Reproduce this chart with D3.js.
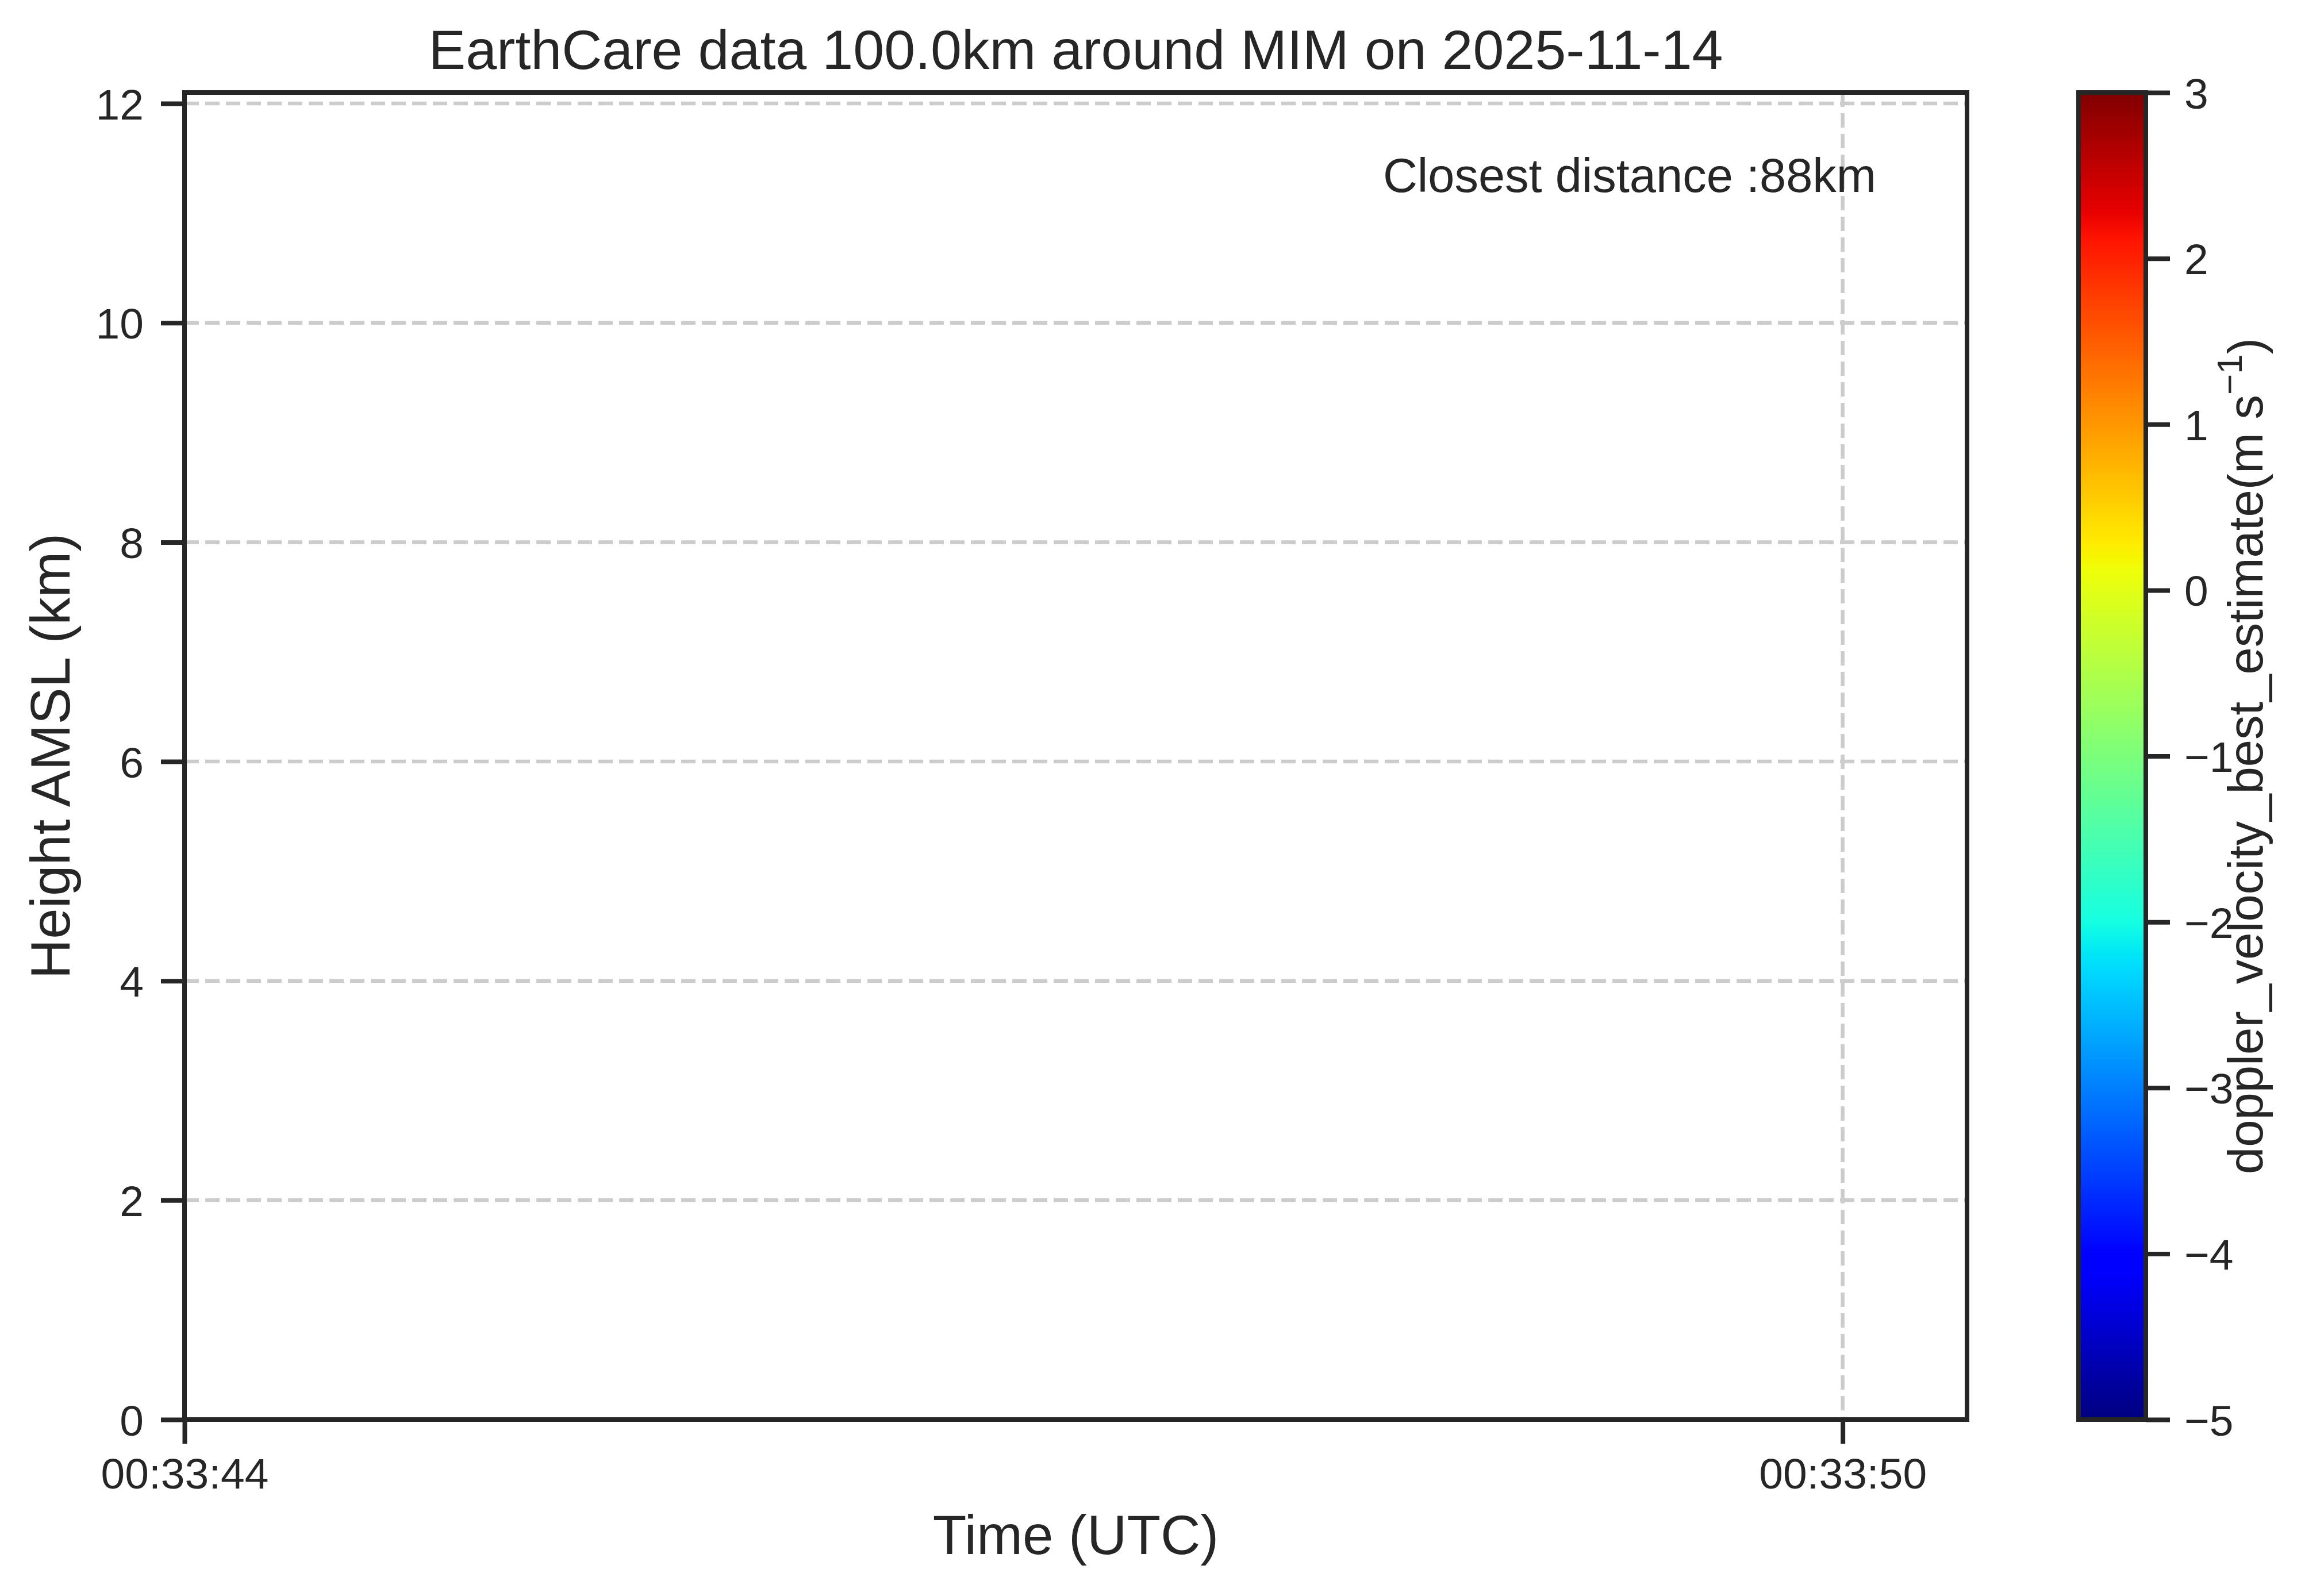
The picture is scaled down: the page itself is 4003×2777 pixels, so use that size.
<!DOCTYPE html>
<html>
<head>
<meta charset="utf-8">
<script src="https://cdn.jsdelivr.net/npm/d3@7"></script>
<style>
  body { margin: 0; background: #fff; }
  text { font-family: "Liberation Sans", Arial, sans-serif; fill: #262626; }
</style>
</head>
<body>
<svg id="chart"></svg>
<script>
// chart data
const titleText = "EarthCare data 100.0km around MIM on 2025-11-14";
const timeStart = new Date(Date.UTC(2025, 10, 14, 0, 33, 44, 0));
const timeEnd = new Date(Date.UTC(2025, 10, 14, 0, 33, 50, 450));
const timeTicks = [new Date(Date.UTC(2025, 10, 14, 0, 33, 44)), new Date(Date.UTC(2025, 10, 14, 0, 33, 50))];
const heightDomain = [0, 12.1];
const heightTicks = [0, 2, 4, 6, 8, 10, 12];
const velocityDomain = [-5, 3];
const velocityTicks = [-5, -4, -3, -2, -1, 0, 1, 2, 3];
const closestDistance = "Closest distance :88km";

// Dimensions
const width = 4003;
const height = 2777;
const plot = { left: 321, right: 3422, top: 161, bottom: 2470 };
const cbar = { left: 3616, right: 3733 };
const ink = "#262626";

const svg = d3.select('#chart')
  .attr('width', width)
  .attr('height', height);

svg.append('rect').attr('width', width).attr('height', height).attr('fill', '#fff');

// scales
const x = d3.scaleUtc()
  .domain([timeStart, timeEnd])
  .range([plot.left, plot.right]);

const y = d3.scaleLinear()
  .domain(heightDomain)
  .range([plot.bottom, plot.top]);

const c = d3.scaleLinear()
  .domain(velocityDomain)
  .range([plot.bottom, plot.top]);

// jet colormap (matplotlib segment data)
const jetR = d3.scaleLinear().domain([0, 0.35, 0.66, 0.89, 1]).range([0, 0, 1, 1, 0.5]).clamp(true);
const jetG = d3.scaleLinear().domain([0, 0.125, 0.375, 0.64, 0.91, 1]).range([0, 0, 1, 1, 0, 0]).clamp(true);
const jetB = d3.scaleLinear().domain([0, 0.11, 0.34, 0.65, 1]).range([0.5, 1, 1, 0, 0]).clamp(true);
function jet(t) {
  return d3.rgb(jetR(t) * 255, jetG(t) * 255, jetB(t) * 255).formatHex();
}

// grid
const grid = svg.append('g')
  .attr('stroke', '#cccccc')
  .attr('stroke-width', 6.5)
  .attr('stroke-dasharray', '25,11');

grid.selectAll('.hgrid')
  .data(heightTicks)
  .enter().append('line')
  .attr('x1', plot.left).attr('x2', plot.right)
  .attr('y1', d => y(d)).attr('y2', d => y(d));

grid.selectAll('.vgrid')
  .data(timeTicks)
  .enter().append('line')
  .attr('x1', d => x(d)).attr('x2', d => x(d))
  .attr('y1', plot.top).attr('y2', plot.bottom);

// X axis
const xAxis = svg.append('g')
  .attr('transform', `translate(0,${plot.bottom})`)
  .call(d3.axisBottom(x).tickValues(timeTicks).tickFormat(d3.utcFormat('%H:%M:%S')).tickSize(42).tickPadding(28));

// Y axis
const yAxis = svg.append('g')
  .attr('transform', `translate(${plot.left},0)`)
  .call(d3.axisLeft(y).tickValues(heightTicks).tickFormat(d3.format('d')).tickSize(41).tickPadding(30));

[xAxis, yAxis].forEach(a => {
  a.select('.domain').remove();
  a.selectAll('.tick line').attr('stroke', ink).attr('stroke-width', 8);
  a.selectAll('.tick text')
    .style('font-family', '"Liberation Sans", Arial, sans-serif')
    .attr('font-size', 75)
    .attr('fill', ink);
});
xAxis.selectAll('.tick text').attr('dy', null).attr('y', 120);
yAxis.selectAll('.tick text').attr('dy', '0.36em');

// spines
svg.append('rect')
  .attr('x', plot.left).attr('y', plot.top)
  .attr('width', plot.right - plot.left).attr('height', plot.bottom - plot.top)
  .attr('fill', 'none').attr('stroke', ink).attr('stroke-width', 8);

// colorbar
const defs = svg.append('defs');
const grad = defs.append('linearGradient')
  .attr('id', 'jet-grad')
  .attr('x1', 0).attr('y1', 1).attr('x2', 0).attr('y2', 0);
grad.selectAll('stop')
  .data(d3.range(0, 257).map(i => i / 256))
  .enter().append('stop')
  .attr('offset', d => d)
  .attr('stop-color', d => jet(d));

svg.append('rect')
  .attr('x', cbar.left).attr('y', c(velocityDomain[1]))
  .attr('width', cbar.right - cbar.left)
  .attr('height', c(velocityDomain[0]) - c(velocityDomain[1]))
  .attr('fill', 'url(#jet-grad)')
  .attr('stroke', ink).attr('stroke-width', 8);

const cAxis = svg.append('g')
  .attr('transform', `translate(${cbar.right},0)`)
  .call(d3.axisRight(c).tickValues(velocityTicks).tickFormat(d => d < 0 ? '\u2212' + Math.abs(d) : d).tickSize(42).tickPadding(25));
cAxis.select('.domain').remove();
cAxis.selectAll('.tick line').attr('stroke', ink).attr('stroke-width', 8);
cAxis.selectAll('.tick text')
  .style('font-family', '"Liberation Sans", Arial, sans-serif')
  .attr('font-size', 75)
  .attr('fill', ink)
  .attr('dy', '0.36em');

// colorbar label
const cLabel = svg.append('text')
  .attr('transform', `translate(3936,${(plot.top + plot.bottom) / 2}) rotate(-90)`)
  .attr('text-anchor', 'middle')
  .attr('font-size', 85);
cLabel.append('tspan').text('doppler_velocity_best_estimate(m s');
cLabel.append('tspan').attr('font-size', 62).attr('dy', -36).text('\u22121');
cLabel.append('tspan').attr('dy', 36).text(')');

// title
svg.append('text')
  .attr('x', (plot.left + plot.right) / 2).attr('y', 120)
  .attr('text-anchor', 'middle')
  .attr('font-size', 97)
  .text(titleText);

// axis labels
svg.append('text')
  .attr('x', (plot.left + plot.right) / 2).attr('y', 2704)
  .attr('text-anchor', 'middle')
  .attr('font-size', 96)
  .text('Time (UTC)');

svg.append('text')
  .attr('transform', `translate(121,${(plot.top + plot.bottom) / 2}) rotate(-90)`)
  .attr('text-anchor', 'middle')
  .attr('font-size', 96)
  .text('Height AMSL (km)');

// closest distance annotation (axes fraction 0.95, 0.95)
svg.append('text')
  .attr('x', plot.left + 0.95 * (plot.right - plot.left) - 3)
  .attr('y', 334)
  .attr('text-anchor', 'end')
  .attr('font-size', 83)
  .text(closestDistance);
</script>
</body>
</html>
